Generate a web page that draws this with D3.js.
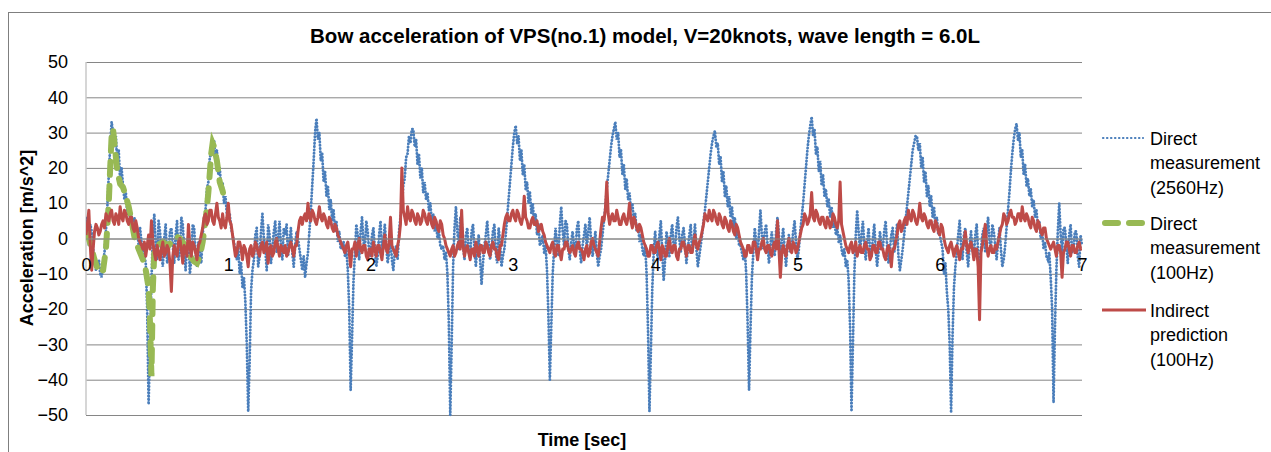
<!DOCTYPE html>
<html>
<head>
<meta charset="utf-8">
<script src="https://d3js.org/d3.v7.min.js"></script>
<style>
  body { margin: 0; background: #fff; }
  svg text { font-family: "Liberation Sans", Arial, sans-serif; fill: #000; }
</style>
</head>
<body>
<svg id="chart" width="1271" height="452"></svg>
<script>
// tick labels
var xTicks = [0, 1, 2, 3, 4, 5, 6, 7]
var yTicks = [-50, -40, -30, -20, -10, 0, 10, 20, 30, 40, 50]

var blueStep = 0.01
var blueValues = [
  3, 6, -2, 4, 2, -3, -5, -9, -8, -6, -10, -11, -7, -4, 2, 9, 18, 26, 33, 30,
  26, 29, 21, 25, 16, 20, 15, 11, 13, 7, 10, 4, 7, 2, 6, 1, 3, -2, 3, -1,
  -3, -5, -7, -20, -47, -30, -12, 1, 7, -2, -6, 5, 2, -4, -8, 0, 4, -7, -5, 2,
  3, -2, -7, 1, 5, -6, -4, 6, 4, -3, -9, -2, 1, -10, -6, 4, 3, -4, -8, -1,
  -4, -7, 1, 6, 8, 14, 16, 23, 24, 28, 28, 22, 25, 18, 20, 14, 16, 10, 12, 7,
  6, 7, 3, 1, -1, -4, -6, -2, -10, -7, -14, -11, -18, -30, -49, -35, -15, -9, -6, 1,
  3, -8, -5, 2, 7, 0, -3, -9, 4, 1, -7, -3, 2, 5, -4, 0, 5, -2, -6, 3,
  1, 4, -5, -1, 3, -4, -8, -2, 2, 0, -3, -6, -9, -5, -11, -7, -4, 2, 8, 15,
  22, 30, 34, 28, 30, 22, 24, 16, 19, 12, 15, 8, 11, 5, 8, 2, 5, -1, 2, -3,
  -2, -1, -5, -3, -9, -20, -43, -28, -12, -4, 4, 1, -6, 2, 6, -1, -3, 5, 2, -4,
  -5, 1, 3, -3, -8, -5, 1, 5, -4, -1, 4, -2, -7, -4, 0, -6, -9, -4, -2, -6,
  2, 6, 9, 15, 17, 23, 24, 29, 27, 31, 31, 26, 28, 21, 24, 17, 20, 13, 16, 11,
  13, 8, 10, 5, 7, 2, 5, 0, 2, -2, -3, -2, -6, -4, -10, -24, -50, -30, -8, 3,
  9, 2, -3, 6, 5, -2, -6, 1, 3, -4, -5, 2, 4, -3, -8, -2, 1, -6, -13, -7,
  -2, 1, 5, -1, -6, -3, 2, 4, -4, -7, 3, -1, -8, -5, -3, 1, 6, 11, 16, 21,
  26, 30, 32, 27, 29, 22, 25, 18, 21, 14, 16, 10, 13, 7, 10, 4, 7, 1, 4, -2,
  -1, 1, -4, -2, -9, -22, -40, -25, -10, -3, 3, -1, -5, 4, 9, 2, -2, 5, 4, -3,
  -6, -1, 2, -2, -4, 3, 5, -3, -7, -2, 1, 4, -3, 2, 6, -1, -5, -2, 2, -4,
  -8, -5, -3, 1, 5, 9, 14, 18, 22, 26, 29, 31, 33, 28, 30, 23, 25, 18, 21, 14,
  17, 11, 13, 8, 10, 5, 7, 2, 4, -1, 1, -3, -5, -2, -10, -26, -49, -32, -14, -4,
  2, -3, -6, 1, 5, -4, -12, -6, 2, -1, -5, 1, 4, -2, -3, 3, 6, 0, -4, 1,
  3, -2, -7, -3, 1, 4, -4, -1, 4, -3, -8, -5, -2, 1, 5, 8, 12, 16, 20, 24,
  27, 29, 30.5, 26, 27, 21, 23, 16, 19, 12, 15, 9, 12, 6, 9, 3, 6, 0, 3, -2,
  -2, -4, -6, -3, -10, -24, -43, -26, -11, -4, 3, -1, -6, 2, 8, 1, -3, 2, 4, -2,
  -7, -2, 2, -3, -5, 2, 6, 1, -4, -1, 3, -3, -8, -2, 1, -4, -3, 2, 5, -1,
  -6, -3, 2, 6, 10, 15, 20, 25, 29, 32, 34.5, 29, 31, 24, 26, 19, 22, 15, 18, 12,
  14, 9, 11, 6, 9, 3, 6, 1, 3, -1, 1, -3, -5, -3, -8, -6, -12, -25, -49, -30,
  -10, 1, 8, 2, -4, 1, 5, -2, -6, -1, 3, -3, -5, 0, 4, -3, -8, -4, 2, -2,
  -3, 2, 5, -2, -7, -3, 1, 3, -4, -1, 4, -5, -9, -6, -3, 1, 5, 9, 13, 17,
  21, 25, 27, 29, 29, 25, 27, 20, 23, 16, 19, 12, 15, 9, 12, 6, 9, 3, 6, 1,
  1, -1, -3, -10, -7, -15, -20, -30, -49, -28, -14, -8, -4, 1, 5, -2, -6, 1, 3, -4,
  -8, -2, 2, -3, -5, 1, 4, -4, -9, -3, 1, 3, -4, 2, 6, -1, -3, 4, 2, -2,
  -6, -1, 3, -3, -8, -6, -2, 3, 8, 13, 19, 24, 28, 31, 32.5, 28, 30, 23, 25, 18,
  21, 15, 17, 12, 14, 9, 11, 6, 8, 3, 5, 0, 2, -3, -1, -5, -6, -4, -11, -20,
  -46.5, -25, -9, 2, 10, 1, -4, 3, 3, -2, -7, 1, 4, -4, -3, 2, 2, -5, -8, 1,
  -2
]

// Direct measurement (100Hz), first second only
var greenTimes = [0, 0.02, 0.04, 0.06, 0.08, 0.10, 0.12, 0.14, 0.16, 0.17, 0.18, 0.19, 0.20,
  0.22, 0.24, 0.26, 0.28, 0.30, 0.32, 0.34, 0.36, 0.38, 0.40, 0.42, 0.44, 0.45, 0.46, 0.47,
  0.48, 0.50, 0.52, 0.54, 0.56, 0.58, 0.60, 0.62, 0.64, 0.66, 0.68, 0.70, 0.72, 0.74, 0.76,
  0.78, 0.80, 0.82, 0.84, 0.86, 0.88, 0.89, 0.90, 0.92, 0.94, 0.96, 0.98]
var greenValues = [2, 0, -3, -6, -8.5, -9.8, -9, -3, 10, 20, 29, 31, 27,
  19, 15.5, 14.5, 12, 9, 5, 0.5, -2, -4, -6, -9, -14, -24, -39, -14,
  -4, -2, -1.5, -1, -1.5, -2, -1, 0, 0.5, 0, -1, -2.5, -4, -5.5, -6.5,
  -7, -5, -1, 5, 13, 24, 27, 26, 22, 16, 13.5, 10]

// Indirect prediction (100Hz), every 0.01 s (one row = 0.2 s)
var redStep = 0.01
var redValues = [
  1, 4, 8, -2, -9, -3, 2, 4, 3, 1, 2, 4, 5, 3, 7, 6, 5, 7, 8, 5,
  4, 7, 6, 4, 9, 6, 5, 8, 7, 5, 4, 6, 6, 3, 2, 5, 3, 0, -1, -2,
  -3, -1, -5, -2, 1, -3, 5, -1, -4, -6, -2, -4, -6, -3, -1, -5, -4, -2, -3, -7,
  -15, -5, -2, -4, -5, -1, 0, -3, -7, -2, -3, -5, 4, -2, -5, -1, -2, -4, -6, -2,
  -1, 1, 3, 6, 7, 4, 5, 8, 8, 5, 4, 7, 10, 6, 5, 3, 7, 4, 3, 6,
  10, 5, 4, 1, -2, -5, -4, -1, -1, -3, -6, -2, -3, -5, -8, -3, -2, -5, -4, -1,
  -2, -4, -5, -2, -1, -4, -3, -1, -7, -3, -2, -5, -4, -1, 0, -3, -5, -2, -3, -4,
  -2, -5, -4, -2, -1, -3, -5, -2, -2, 2, 5, 6, 4, 6, 7, 5, 10, 6, 5, 8,
  7, 5, 4, 6, 9, 6, 5, 7, 6, 4, 3, 6, 5, 3, 2, 4, 3, 1, 0, -1,
  -2, -3, -4, -2, -1, -4, -8, -3, -3, -1, -5, -2, 0, -3, -4, -2, -2, -5, -6, -3,
  -3, -5, -1, -3, -5, -2, -2, -4, -6, -2, 1, -3, -4, -1, 6, -2, -3, -4, -5, -2,
  0, 4, 20, 8, 6, 4, 9, 6, 5, 8, 7, 5, 4, 7, 6, 4, 5, 8, 7, 5,
  4, 7, 6, 4, 3, 6, 5, 3, 2, 5, 4, 1, 0, -2, -3, -4, -5, -3, -2, -5,
  -4, -2, -1, -3, 8, -2, -5, -3, -2, -4, -6, -3, -3, -5, -1, -3, -5, -2, -2, -4,
  -4, -1, -2, -4, -5, -2, -1, -3, -3, -5, -6, -2, -2, 1, 4, 6, 7, 5, 5, 7,
  8, 6, 5, 8, 7, 5, 4, 6, 12, 6, 5, 3, 3, 5, 6, 4, 4, 5, 2, 3,
  4, 2, 1, -1, -2, -3, -4, -2, -1, -4, -5, -2, -2, -4, -6, -3, -3, -1, -1, -3,
  -4, -3, -2, -4, -5, -2, -1, -3, -3, -4, -6, -3, -2, -5, -4, -1, 0, -2, -3, -4,
  -5, -1, 3, 6, 5, 8, 16, 7, 4, 6, 7, 5, 5, 8, 6, 4, 4, 6, 7, 5,
  4, 6, 10, 5, 3, 6, 5, 3, 2, 4, 3, 1, -1, -2, -3, -5, -5, -2, -2, -4,
  -4, -2, -1, -3, -6, -2, -3, -5, -5, -2, 0, -3, -4, -2, -2, -5, -6, -3, -3, -1,
  -1, -3, -5, -2, -2, -4, -4, -1, 1, -2, -3, -1, 0, 2, 4, 7, 6, 5, 8, 6,
  5, 8, 7, 5, 4, 7, 6, 4, 3, 6, 5, 3, 2, 5, 4, 2, 1, 4, 3, 1,
  -1, -2, -3, -5, -5, -2, -2, -4, -4, -1, -1, -3, -6, -3, -3, -1, 0, -3, -4, -2,
  -2, -4, -5, -2, -1, -3, 5, -3, -11, -4, -2, -4, -5, -2, 0, -3, -4, -1, -2, -4,
  -3, -1, 1, 3, 4, 7, 6, 4, 5, 7, 13, 6, 5, 8, 7, 5, 4, 6, 6, 4,
  3, 6, 5, 3, 4, 7, 6, 4, 3, 5, 16, 4, 2, 0, -2, -3, -4, -2, -1, -4,
  -3, -1, -5, -3, -2, -4, -4, -2, -1, -3, -3, -6, -5, -2, -2, -4, -4, -1, -1, -3,
  -3, -5, -6, -3, -2, -4, -8, -3, -3, -1, 1, 4, 5, 2, 3, 5, 6, 4, 8, 6,
  5, 8, 7, 5, 4, 6, 10, 6, 5, 7, 6, 4, 3, 5, 5, 3, 2, 5, 4, 2,
  1, 4, 3, 0, -2, -3, -4, -2, -1, -3, -5, -3, -2, -4, -6, -3, -3, -1, 2, -2,
  -4, -2, -1, -3, -6, -3, -3, -8, -23, -4, -2, 1, 4, -2, -5, -3, -2, -4, -4, -2,
  -3, -1, 1, 3, 4, 7, 6, 4, 5, 7, 8, 6, 6, 4, 5, 7, 7, 5, 9, 6,
  5, 7, 6, 4, 3, 6, 5, 3, 2, 5, 4, 2, 1, 3, 3, 0, -1, -2, -3, -2,
  -1, -3, -5, -2, -2, -4, -11, -4, -3, -1, -1, -3, -5, -2, -2, -4, -4, -2, -1, -3,
  -3
]

var seriesNames = [
  ["Direct", "measurement", "(2560Hz)"],
  ["Direct", "measurement", "(100Hz)"],
  ["Indirect", "prediction", "(100Hz)"]
]

var colors = { blue: "#4a7ebb", green: "#98b954", red: "#be4b48" }

var svg = d3.select("#chart")

var plot = { left: 86, right: 1082, top: 62, bottom: 415 }

var x = d3.scaleLinear().domain([0, 7]).range([plot.left, plot.right])
var y = d3.scaleLinear().domain([-50, 50]).range([plot.bottom, plot.top])

// outer chart border
svg.append("rect")
  .attr("x", 8.5).attr("y", 12.5)
  .attr("width", 1300).attr("height", 500)
  .attr("fill", "none")
  .attr("stroke", "#7f7f7f")
  .attr("stroke-width", 1)

// gridlines + y labels
var yAxis = svg.append("g")
  .attr("transform", "translate(" + plot.left + ",0)")
  .call(d3.axisLeft(y).tickValues(yTicks).tickSize(-(plot.right - plot.left)).tickPadding(18))
yAxis.select(".domain").remove()
yAxis.selectAll(".tick line").attr("stroke", "#868686").attr("stroke-width", 1)
yAxis.selectAll(".tick text").style("font-size", "18px")

svg.append("line")
  .attr("x1", plot.left).attr("x2", plot.left)
  .attr("y1", plot.top).attr("y2", plot.bottom)
  .attr("stroke", "#c8c8c8").attr("stroke-width", 1.5)

svg.append("defs").append("clipPath").attr("id", "clip")
  .append("rect")
  .attr("x", plot.left).attr("y", plot.top - 2)
  .attr("width", plot.right - plot.left + 2).attr("height", plot.bottom - plot.top + 4)

var line = d3.line()
  .x(function(d){ return x(d[0]) })
  .y(function(d){ return y(d[1]) })

function stepSeries(values, step){
  return values.map(function(v, i){ return [i * step, v] })
}

var blueData = stepSeries(blueValues, blueStep)
var redData = stepSeries(redValues, redStep)
var greenData = greenTimes.map(function(t, i){ return [t, greenValues[i]] })

var lines = svg.append("g").attr("clip-path", "url(#clip)")

lines.append("path")
  .datum(blueData)
  .attr("fill", "none")
  .attr("stroke", colors.blue)
  .attr("stroke-width", 2.8)
  .attr("stroke-linecap", "round")
  .attr("stroke-dasharray", "0.3,3")
  .attr("d", line)

lines.append("path")
  .datum(greenData)
  .attr("fill", "none")
  .attr("stroke", colors.green)
  .attr("stroke-width", 6)
  .attr("stroke-linecap", "round")
  .attr("stroke-dasharray", "13,11")
  .attr("d", line)

lines.append("path")
  .datum(redData)
  .attr("fill", "none")
  .attr("stroke", colors.red)
  .attr("stroke-width", 3)
  .attr("stroke-linejoin", "round")
  .attr("d", line)

// x axis crosses at 0
var xAxis = svg.append("g")
  .attr("transform", "translate(0," + y(0) + ")")
  .call(d3.axisBottom(x).tickValues(xTicks).tickSize(0).tickPadding(20).tickFormat(d3.format("d")))
xAxis.select(".domain").attr("stroke", "#868686")
xAxis.selectAll(".tick text").style("font-size", "18px")

// titles
svg.append("text")
  .attr("x", 645).attr("y", 43)
  .attr("text-anchor", "middle")
  .style("font-size", "20.5px").style("font-weight", "bold")
  .text("Bow acceleration of VPS(no.1) model, V=20knots, wave length = 6.0L")

svg.append("text")
  .attr("transform", "translate(33,238) rotate(-90)")
  .attr("text-anchor", "middle")
  .style("font-size", "18px").style("font-weight", "bold")
  .text("Acceleration [m/s^2]")

svg.append("text")
  .attr("x", 582).attr("y", 446)
  .attr("text-anchor", "middle")
  .style("font-size", "18px").style("font-weight", "bold")
  .text("Time [sec]")

// legend
var legendY = [138, 223, 310]
var legend = svg.append("g")

legend.append("line")
  .attr("x1", 1103).attr("x2", 1143).attr("y1", legendY[0]).attr("y2", legendY[0])
  .attr("stroke", colors.blue).attr("stroke-width", 2.2)
  .attr("stroke-linecap", "round").attr("stroke-dasharray", "0.4,3.6")
legend.append("line")
  .attr("x1", 1105).attr("x2", 1142).attr("y1", legendY[1]).attr("y2", legendY[1])
  .attr("stroke", colors.green).attr("stroke-width", 6)
  .attr("stroke-linecap", "round").attr("stroke-dasharray", "13,11")
legend.append("line")
  .attr("x1", 1102).attr("x2", 1146).attr("y1", legendY[2]).attr("y2", legendY[2])
  .attr("stroke", colors.red).attr("stroke-width", 3)

seriesNames.forEach(function(lines3, k){
  lines3.forEach(function(s, j){
    legend.append("text")
      .attr("x", 1150)
      .attr("y", legendY[k] + 6.5 + j * 24.5)
      .style("font-size", "18px")
      .text(s)
  })
})
</script>
</body>
</html>
